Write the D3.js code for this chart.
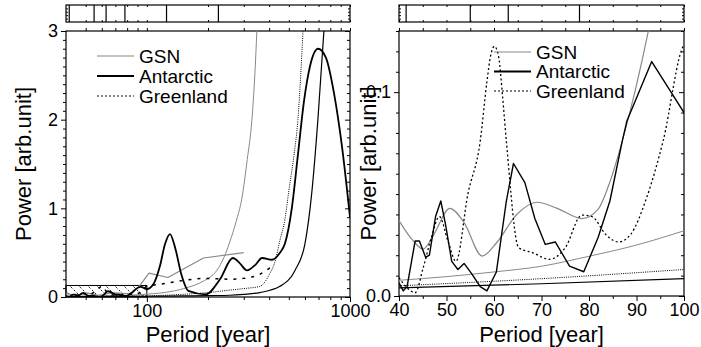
<!DOCTYPE html>
<html>
<head>
<meta charset="utf-8">
<script src="https://cdn.jsdelivr.net/npm/d3@7"></script>
<style>
  body { margin: 0; background: #fff; }
  text { font-family: "Liberation Sans", Arial, sans-serif; fill: #000; }
</style>
</head>
<body>
<div id="graphic"></div>
<script>
// Antarctic spectrum (period in years, power)
const antPeriod = [40, 40.9, 41.7, 43.4, 44.3, 45.6, 46.4, 47.7, 48.8, 49.8, 51.1, 52.4, 53.7, 55.4, 57.1, 58.5, 60.5, 62.6, 64.1, 66.5, 68.6, 70.8, 72.9, 75.9, 78.9, 81.9, 84.4, 87, 88, 93.2, 100,
  108, 116, 123, 130, 138, 148, 160, 195, 229, 265, 287, 311, 341, 369, 413, 452, 478, 517, 554, 593, 635, 696, 761, 834, 913, 1000];
const antPower = [0.0065, 0.0025, 0.0046, 0.027, 0.027, 0.019, 0.020, 0.039, 0.0466, 0.035, 0.017, 0.013, 0.016, 0.0106, 0.0046, 0.0025, 0.0118, 0.0466, 0.065, 0.0556, 0.038, 0.0253, 0.0265, 0.0147, 0.0119, 0.0286, 0.0466, 0.076, 0.086, 0.115, 0.09,
  0.15, 0.35, 0.6, 0.71, 0.55, 0.25, 0.07, 0.03, 0.2, 0.44, 0.38, 0.30, 0.36, 0.44, 0.42, 0.5, 0.6, 1.0, 1.6, 2.2, 2.6, 2.8, 2.7, 2.3, 1.7, 0.9];

// GSN spectrum
const gsnPeriod = [40, 43, 45.1, 47.3, 50.7, 53.7, 57.5, 60.5, 64.8, 69.1, 73.3, 78.5, 81.9, 84.4, 87, 92.5, 102.5, 127, 190, 300];
const gsnPower = [0.037, 0.027, 0.023, 0.030, 0.043, 0.036, 0.0196, 0.026, 0.040, 0.046, 0.043, 0.038, 0.0425, 0.056, 0.076, 0.13, 0.27, 0.22, 0.44, 0.50];

// Greenland spectrum
const grnPeriod = [40, 41.7, 43.4, 45.1, 46.8, 48.5, 50.3, 52, 54.5, 57.1, 58.5, 59.3, 60.1, 61, 61.8, 62.6, 65.2, 68.2, 71.6, 75, 78.5, 80.6, 83.6, 86.2, 88.7, 92.1, 95.6, 100,
  118, 145, 195, 260, 300, 355, 415];
const grnPower = [0.009, 0.004, 0.0016, 0.0139, 0.0286, 0.039, 0.027, 0.017, 0.05, 0.076, 0.105, 0.118, 0.1225, 0.117, 0.098, 0.076, 0.0237, 0.0212, 0.018, 0.0237, 0.0397, 0.039, 0.030, 0.0265, 0.030, 0.048, 0.076, 0.123,
  0.146, 0.18, 0.21, 0.2, 0.21, 0.25, 0.35];

// background (red noise) curves
const gsnBgPeriod = [40, 50, 60, 70, 80, 90, 100, 130, 160, 190, 221, 240, 256, 275, 294, 312, 329, 340, 348];
const gsnBgPower = [0.0077, 0.0095, 0.0118, 0.0146, 0.0195, 0.025, 0.032, 0.06, 0.11, 0.18, 0.3, 0.45, 0.62, 0.85, 1.12, 1.55, 2.0, 2.5, 3.0];
const antBgPeriod = [40, 70, 100, 150, 200, 256, 300, 360, 452, 536, 600, 650, 695, 744];
const antBgPower = [0.004, 0.006, 0.0085, 0.012, 0.016, 0.02, 0.03, 0.05, 0.12, 0.3, 0.6, 1.2, 2.0, 3.0];
const grnBgPeriod = [40, 70, 100, 150, 200, 250, 300, 360, 400, 430, 452, 478, 500, 530, 554, 572, 587];
const grnBgPower = [0.005, 0.0085, 0.013, 0.03, 0.05, 0.075, 0.095, 0.12, 0.25, 0.42, 0.64, 0.87, 1.2, 1.6, 2.0, 2.5, 3.0];

// periods marked in the strips above the plots
const markPeriods = [41.5, 55, 63, 78, 125, 225];

// ticks
const leftMajorX = [100, 1000];
const leftMinorX = [50, 60, 70, 80, 90, 200, 300, 400, 500, 600, 700, 800, 900];
const leftMajorY = [0, 1, 2, 3];
const rightMajorX = [40, 50, 60, 70, 80, 90, 100];
const rightMajorY = [0, 0.1];

const seriesNames = ["GSN", "Antarctic", "Greenland"];

const zip = (p, v) => p.map((d, i) => [d, v[i]]);

const svg = d3.select("#graphic")
    .append("svg")
    .attr("width", 701)
    .attr("height", 347);

const defs = svg.append("defs");
const hatch = defs.append("pattern")
    .attr("id", "hatch")
    .attr("patternUnits", "userSpaceOnUse")
    .attr("width", 9).attr("height", 9);
hatch.append("path")
    .attr("d", "M-1,-1L10,10")
    .attr("stroke", "#222").attr("stroke-width", 1)
    .attr("stroke-dasharray", "2,2");

const left = {x0: 66, x1: 350, top: 31, bottom: 297, boxTop: 5, boxBottom: 22};
const right = {x0: 399, x1: 684, top: 31, bottom: 296, boxTop: 5, boxBottom: 22};

const xL = d3.scaleLog().domain([40, 1000]).range([left.x0, left.x1]);
const yL = d3.scaleLinear().domain([0, 3]).range([left.bottom, left.top]);
const xR = d3.scaleLinear().domain([40, 100]).range([right.x0, right.x1]);
const yR = d3.scaleLinear().domain([0, 0.13]).range([right.bottom, right.top]);

function styleAxis(g) {
    g.select(".domain").remove();
    g.selectAll("line").attr("stroke", "#000");
    g.selectAll("text").attr("font-size", 18).attr("fill", "#000");
}

function drawFrame(dims, x, y, xMajor, xMinor, yMajor, yMinor, yFormat) {
    const g = svg.append("g");
    // bottom axis
    g.append("g").attr("transform", "translate(0," + dims.bottom + ")")
        .call(d3.axisBottom(x).tickValues(xMinor).tickSize(3).tickFormat(""))
        .call(styleAxis);
    g.append("g").attr("transform", "translate(0," + dims.bottom + ")")
        .call(d3.axisBottom(x).tickValues(xMajor).tickSize(5).tickPadding(2).tickFormat(d3.format("d")))
        .call(styleAxis);
    // top axis
    g.append("g").attr("transform", "translate(0," + dims.top + ")")
        .call(d3.axisTop(x).tickValues(xMinor.concat(xMajor)).tickSize(3).tickFormat(""))
        .call(styleAxis);
    // left axis
    g.append("g").attr("transform", "translate(" + dims.x0 + ",0)")
        .call(d3.axisLeft(y).tickValues(yMinor).tickSize(3).tickFormat(""))
        .call(styleAxis);
    g.append("g").attr("transform", "translate(" + dims.x0 + ",0)")
        .call(d3.axisLeft(y).tickValues(yMajor).tickSize(5).tickPadding(3).tickFormat(yFormat))
        .call(styleAxis);
    // right axis, ticks inside
    g.append("g").attr("transform", "translate(" + dims.x1 + ",0)")
        .call(d3.axisLeft(y).tickValues(yMinor).tickSize(3).tickFormat(""))
        .call(styleAxis);
    g.append("g").attr("transform", "translate(" + dims.x1 + ",0)")
        .call(d3.axisLeft(y).tickValues(yMajor).tickSize(5).tickFormat(""))
        .call(styleAxis);
    g.append("rect")
        .attr("x", dims.x0).attr("y", dims.top)
        .attr("width", dims.x1 - dims.x0).attr("height", dims.bottom - dims.top)
        .attr("fill", "none").attr("stroke", "#000").attr("stroke-width", 1.2);

    // strip above the plot
    const s = svg.append("g");
    s.append("g").attr("transform", "translate(0," + dims.boxTop + ")")
        .call(d3.axisBottom(x).tickValues(xMinor.concat(xMajor)).tickSize(2).tickFormat(""))
        .call(styleAxis);
    s.append("g").attr("transform", "translate(0," + dims.boxBottom + ")")
        .call(d3.axisTop(x).tickValues(xMinor.concat(xMajor)).tickSize(2).tickFormat(""))
        .call(styleAxis);
    const ys = d3.scaleLinear().domain([0, 1]).range([dims.boxBottom, dims.boxTop]);
    s.append("g").attr("transform", "translate(" + dims.x0 + ",0)")
        .call(d3.axisRight(ys).tickValues([0.2, 0.4, 0.6, 0.8]).tickSize(2).tickFormat(""))
        .call(styleAxis);
    s.append("g").attr("transform", "translate(" + dims.x1 + ",0)")
        .call(d3.axisLeft(ys).tickValues([0.2, 0.4, 0.6, 0.8]).tickSize(2).tickFormat(""))
        .call(styleAxis);
    s.selectAll(".mark")
        .data(markPeriods.filter(p => p >= x.domain()[0] && p <= x.domain()[1]))
        .enter().append("line")
        .attr("x1", d => x(d)).attr("x2", d => x(d))
        .attr("y1", dims.boxTop).attr("y2", dims.boxBottom)
        .attr("stroke", "#000").attr("stroke-width", 1.2);
    s.append("rect")
        .attr("x", dims.x0).attr("y", dims.boxTop)
        .attr("width", dims.x1 - dims.x0).attr("height", dims.boxBottom - dims.boxTop)
        .attr("fill", "none").attr("stroke", "#000").attr("stroke-width", 1.2);

    // axis title
    svg.append("text")
        .attr("x", (dims.x0 + dims.x1) / 2).attr("y", 342)
        .attr("text-anchor", "middle").attr("font-size", 22)
        .text("Period [year]");
}

function drawCurves(dims, id, x, y, sets) {
    defs.append("clipPath").attr("id", id)
        .append("rect")
        .attr("x", dims.x0).attr("y", dims.top)
        .attr("width", dims.x1 - dims.x0).attr("height", dims.bottom - dims.top);
    const g = svg.append("g").attr("clip-path", "url(#" + id + ")");
    sets.forEach(s => {
        g.append("path")
            .datum(s.data)
            .attr("fill", "none")
            .attr("stroke", s.color)
            .attr("stroke-width", s.width)
            .attr("stroke-dasharray", s.dash || null)
            .attr("stroke-linejoin", "round")
            .attr("d", d3.line()
                .curve(s.curve || d3.curveMonotoneX)
                .x(d => x(d[0]))
                .y(d => y(d[1])));
    });
}

function drawLegend(lx, ly, gap, lineLen, fontSize) {
    const styles = [
        {color: "#888", width: 1.1, dash: null},
        {color: "#000", width: 1.8, dash: null},
        {color: "#000", width: 1.2, dash: "2,2"}
    ];
    seriesNames.forEach((name, i) => {
        const yy = ly + i * gap;
        svg.append("line")
            .attr("x1", lx).attr("x2", lx + lineLen)
            .attr("y1", yy).attr("y2", yy)
            .attr("stroke", styles[i].color)
            .attr("stroke-width", styles[i].width)
            .attr("stroke-dasharray", styles[i].dash);
        svg.append("text")
            .attr("x", lx + lineLen + 5).attr("y", yy)
            .attr("dy", "0.36em")
            .attr("font-size", fontSize)
            .text(name);
    });
}

function yTitle(xPos, dims) {
    svg.append("text")
        .attr("transform", "translate(" + xPos + "," + (dims.top + dims.bottom) / 2 + ") rotate(-90)")
        .attr("text-anchor", "middle").attr("font-size", 22)
        .text("Power [arb.unit]");
}

// ---- left panel (log period) ----
const leftMinorY = d3.range(1, 30).filter(d => d % 10 !== 0).map(d => d / 10);
drawFrame(left, xL, yL, leftMajorX, leftMinorX, leftMajorY, leftMinorY, d3.format("d"));

// zoom window shown on the right
svg.append("rect")
    .attr("x", xL(40)).attr("y", yL(0.13))
    .attr("width", xL(100) - xL(40)).attr("height", yL(0) - yL(0.13))
    .attr("fill", "url(#hatch)").attr("stroke", "#000").attr("stroke-width", 1);

drawCurves(left, "clipL", xL, yL, [
    {data: zip(gsnBgPeriod, gsnBgPower), color: "#888", width: 1},
    {data: zip(grnBgPeriod, grnBgPower), color: "#000", width: 1, dash: "1,1.2"},
    {data: zip(antBgPeriod, antBgPower), color: "#000", width: 1.2},
    {data: zip(gsnPeriod, gsnPower), color: "#888", width: 1.2, curve: d3.curveLinear},
    {data: zip(grnPeriod, grnPower), color: "#000", width: 1.5, dash: "3,6"},
    {data: zip(antPeriod, antPower), color: "#000", width: 1.8}
]);
drawLegend(97, 56, 20, 37, 19);
yTitle(31, left);

// ---- right panel (40-100 years) ----
const rightMinorX = d3.range(45, 100, 10);
const rightMinorY = d3.range(1, 14).filter(d => d !== 10).map(d => d / 100);
drawFrame(right, xR, yR, rightMajorX, rightMinorX, rightMajorY, rightMinorY, d3.format(".1f"));

const near = (p, v) => zip(p, v).filter(d => d[0] <= 120);
drawCurves(right, "clipR", xR, yR, [
    {data: near(gsnBgPeriod, gsnBgPower), color: "#888", width: 1},
    {data: near(grnBgPeriod, grnBgPower), color: "#000", width: 1, dash: "1,1.2"},
    {data: near(antBgPeriod, antBgPower), color: "#000", width: 1.2},
    {data: near(gsnPeriod, gsnPower), color: "#888", width: 1.2},
    {data: near(grnPeriod, grnPower), color: "#000", width: 1.3, dash: "2,2.5"},
    {data: near(antPeriod, antPower), color: "#000", width: 1.4, curve: d3.curveLinear}
]);
drawLegend(494, 52, 19.5, 37, 19);
yTitle(376, right);
</script>
</body>
</html>
